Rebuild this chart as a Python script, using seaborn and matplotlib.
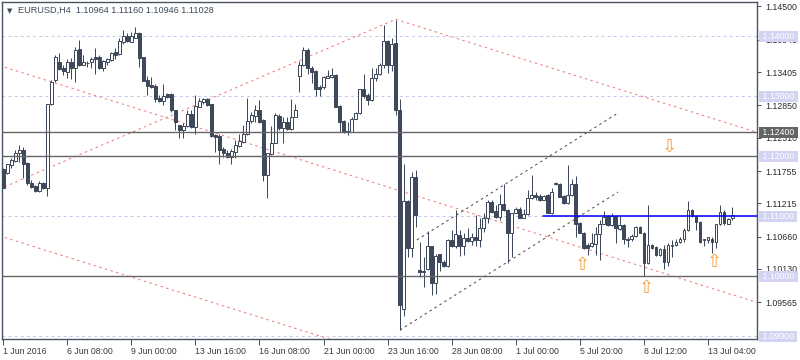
import matplotlib
matplotlib.use("Agg")
import matplotlib.pyplot as plt
import matplotlib.transforms as mtrans
import numpy as np
import pandas as pd
import seaborn as sns

# ---------------- data ----------------
symbol = "EURUSD,H4"
last_ohlc = ["1.10964", "1.11160", "1.10946", "1.11028"]

opens = [1.1179, 1.1172, 1.1186, 1.1193, 1.1205, 1.1211, 1.1189, 1.1155, 1.1151, 1.1142,
         1.1155, 1.1147, 1.1287, 1.1327, 1.1357, 1.1347, 1.1341, 1.1357, 1.1348, 1.1379,
         1.1353, 1.1356, 1.1357, 1.1365, 1.1366, 1.1348, 1.1357, 1.1361, 1.1374, 1.1370,
         1.1391, 1.1400, 1.1391, 1.1398, 1.1405, 1.1365, 1.1327, 1.1319, 1.1318, 1.1298,
         1.1292, 1.1304, 1.1304, 1.1277, 1.1252, 1.1244, 1.1251, 1.1271, 1.1249, 1.1283,
         1.1291, 1.1296, 1.1287, 1.1236, 1.1234, 1.1212, 1.1206, 1.1199, 1.1208, 1.1217,
         1.1224, 1.1237, 1.1259, 1.1267, 1.1277, 1.1261, 1.1169, 1.1204, 1.1223, 1.1267,
         1.1247, 1.1257, 1.1245, 1.1266, 1.1334, 1.1352, 1.1378, 1.1347, 1.1342, 1.1315,
         1.1315, 1.1331, 1.1333, 1.1336, 1.1284, 1.1259, 1.1242, 1.1241, 1.1263, 1.1272,
         1.1312, 1.1302, 1.1294, 1.1330, 1.1337, 1.1352, 1.1392, 1.1352, 1.1389, 1.1277,
         1.0945, 1.1126, 1.1048, 1.1166, 1.1011, 1.1009, 1.1012, 1.1051, 1.0989, 1.1037,
         1.1024, 1.1017, 1.1061, 1.1051, 1.1069, 1.1051, 1.1064, 1.1059, 1.1066, 1.1061,
         1.1081, 1.1098, 1.1124, 1.1109, 1.1099, 1.1121, 1.1111, 1.1072, 1.1106, 1.1112,
         1.1098, 1.1104, 1.1130, 1.1136, 1.1134, 1.1128, 1.1136, 1.1106, 1.1154, 1.1154,
         1.1134, 1.1122, 1.1135, 1.1154, 1.1089, 1.1073, 1.1052, 1.1051, 1.1054, 1.1071,
         1.1088, 1.1101, 1.1086, 1.1101, 1.1079, 1.1086, 1.1063, 1.1062, 1.1067, 1.1082,
         1.1073, 1.1022, 1.1052, 1.1049, 1.1036, 1.1045, 1.1024, 1.1051, 1.1052, 1.1058,
         1.1062, 1.1077, 1.1111, 1.1101, 1.1091, 1.1062, 1.1061, 1.1063, 1.1058, 1.1087,
         1.1108, 1.1088, 1.10964]
highs = [1.1181, 1.1188, 1.1198, 1.1211, 1.1219, 1.1216, 1.1191, 1.1161, 1.1153, 1.1159,
         1.1158, 1.1288, 1.1327, 1.1369, 1.1372, 1.1352, 1.1363, 1.1364, 1.1383, 1.1394,
         1.1369, 1.1359, 1.1366, 1.1380, 1.1369, 1.1361, 1.1364, 1.1374, 1.1380, 1.1397,
         1.1411, 1.1405, 1.1408, 1.1415, 1.1407, 1.1366, 1.1334, 1.1333, 1.1320, 1.1302,
         1.1320, 1.1305, 1.1305, 1.1278, 1.1253, 1.1255, 1.1277, 1.1277, 1.1302, 1.1298,
         1.1297, 1.1297, 1.1288, 1.1238, 1.1238, 1.1216, 1.1211, 1.1212, 1.1228, 1.1237,
         1.1252, 1.1298, 1.1274, 1.1285, 1.1294, 1.1263, 1.1206, 1.1251, 1.1273, 1.1271,
         1.1265, 1.1265, 1.1295, 1.1287, 1.1359, 1.1382, 1.1380, 1.1351, 1.1344, 1.1319,
         1.1334, 1.1344, 1.1348, 1.1337, 1.1285, 1.1261, 1.1258, 1.1266, 1.1274, 1.1313,
         1.1337, 1.1306, 1.1347, 1.1347, 1.1356, 1.1419, 1.1394, 1.1397, 1.1428, 1.1295,
         1.1187, 1.1127, 1.1174, 1.1178, 1.1058, 1.1032, 1.1075, 1.1051, 1.1038, 1.1038,
         1.1027, 1.1063, 1.1078, 1.1111, 1.1077, 1.1072, 1.1080, 1.1072, 1.1102, 1.1097,
         1.1105, 1.1127, 1.1127, 1.1119, 1.1138, 1.1154, 1.1112, 1.1106, 1.1116, 1.1116,
         1.1113, 1.1144, 1.1169, 1.1141, 1.1137, 1.1136, 1.1137, 1.1147, 1.1158, 1.1155,
         1.1135, 1.1186, 1.1163, 1.1167, 1.1091, 1.1074, 1.1055, 1.1072, 1.1082, 1.1094,
         1.1109, 1.1102, 1.1105, 1.1102, 1.1101, 1.1087, 1.1066, 1.1071, 1.1084, 1.1084,
         1.1074, 1.1119, 1.1054, 1.1050, 1.1048, 1.1052, 1.1055, 1.1061, 1.1062, 1.1066,
         1.1080, 1.1126, 1.1113, 1.1102, 1.1092, 1.1063, 1.1066, 1.1066, 1.1088, 1.1119,
         1.1110, 1.1097, 1.11160]
lows = [1.1147, 1.1170, 1.1181, 1.1191, 1.1191, 1.1164, 1.1153, 1.1147, 1.1141, 1.1141,
        1.1146, 1.1134, 1.1286, 1.1324, 1.1344, 1.1336, 1.1330, 1.1329, 1.1324, 1.1351,
        1.1352, 1.1349, 1.1347, 1.1338, 1.1346, 1.1342, 1.1353, 1.1359, 1.1363, 1.1369,
        1.1387, 1.1391, 1.1390, 1.1397, 1.1349, 1.1325, 1.1303, 1.1314, 1.1290, 1.1290,
        1.1286, 1.1298, 1.1274, 1.1244, 1.1231, 1.1231, 1.1249, 1.1248, 1.1237, 1.1282,
        1.1287, 1.1284, 1.1233, 1.1208, 1.1188, 1.1199, 1.1197, 1.1188, 1.1197, 1.1215,
        1.1223, 1.1236, 1.1256, 1.1258, 1.1256, 1.1159, 1.1130, 1.1202, 1.1222, 1.1244,
        1.1223, 1.1244, 1.1244, 1.1265, 1.1308, 1.1351, 1.1337, 1.1322, 1.1301, 1.1301,
        1.1313, 1.1330, 1.1330, 1.1282, 1.1241, 1.1239, 1.1236, 1.1240, 1.1262, 1.1271,
        1.1298, 1.1285, 1.1293, 1.1326, 1.1336, 1.1347, 1.1339, 1.1343, 1.1269, 1.0911,
        1.0934, 1.1033, 1.1033, 1.1083, 1.0999, 1.0982, 1.1010, 1.0969, 1.0971, 1.1009,
        1.1016, 1.1016, 1.1049, 1.1048, 1.1034, 1.1036, 1.1058, 1.1052, 1.1051, 1.1049,
        1.1074, 1.1089, 1.1105, 1.1097, 1.1094, 1.1109, 1.1022, 1.1032, 1.1105, 1.1097,
        1.1097, 1.1102, 1.1129, 1.1127, 1.1126, 1.1127, 1.1105, 1.1104, 1.1152, 1.1132,
        1.1121, 1.1121, 1.1134, 1.1065, 1.1072, 1.1045, 1.1036, 1.1049, 1.1036, 1.1027,
        1.1087, 1.1084, 1.1084, 1.1055, 1.1077, 1.1054, 1.1049, 1.1059, 1.1066, 1.1072,
        1.1001, 1.1021, 1.1045, 1.1034, 1.1034, 1.1013, 1.1017, 1.1033, 1.1050, 1.1056,
        1.1057, 1.1076, 1.1099, 1.1077, 1.1056, 1.1050, 1.1055, 1.1039, 1.1048, 1.1086,
        1.1086, 1.1087, 1.10946]
closes = [1.1148, 1.1187, 1.1194, 1.1205, 1.1211, 1.1188, 1.1155, 1.1149, 1.1142, 1.1155,
          1.1147, 1.1287, 1.1324, 1.1365, 1.1345, 1.1342, 1.1357, 1.1348, 1.1377, 1.1352,
          1.1357, 1.1355, 1.1363, 1.1363, 1.1348, 1.1359, 1.1362, 1.1373, 1.1369, 1.1392,
          1.1400, 1.1392, 1.1400, 1.1405, 1.1364, 1.1326, 1.1318, 1.1316, 1.1296, 1.1292,
          1.1301, 1.1299, 1.1277, 1.1257, 1.1244, 1.1251, 1.1271, 1.1249, 1.1284, 1.1293,
          1.1295, 1.1286, 1.1234, 1.1233, 1.1211, 1.1206, 1.1199, 1.1209, 1.1219, 1.1226,
          1.1237, 1.1259, 1.1269, 1.1277, 1.1258, 1.1169, 1.1205, 1.1223, 1.1269, 1.1247,
          1.1257, 1.1246, 1.1265, 1.1278, 1.1352, 1.1378, 1.1347, 1.1341, 1.1313, 1.1313,
          1.1332, 1.1334, 1.1336, 1.1283, 1.1258, 1.1240, 1.1241, 1.1263, 1.1272, 1.1312,
          1.1301, 1.1294, 1.1330, 1.1337, 1.1352, 1.1392, 1.1352, 1.1388, 1.1277, 1.0952,
          1.1125, 1.1048, 1.1166, 1.1102, 1.1008, 1.1008, 1.1051, 1.0989, 1.1034, 1.1024,
          1.1017, 1.1061, 1.1051, 1.1070, 1.1051, 1.1064, 1.1059, 1.1066, 1.1061, 1.1081,
          1.1098, 1.1124, 1.1108, 1.1099, 1.1121, 1.1111, 1.1072, 1.1105, 1.1112, 1.1098,
          1.1104, 1.1130, 1.1136, 1.1132, 1.1128, 1.1134, 1.1106, 1.1141, 1.1156, 1.1133,
          1.1122, 1.1135, 1.1154, 1.1088, 1.1073, 1.1047, 1.1048, 1.1055, 1.1071, 1.1088,
          1.1099, 1.1086, 1.1101, 1.1080, 1.1086, 1.1062, 1.1061, 1.1067, 1.1082, 1.1073,
          1.1022, 1.1052, 1.1048, 1.1036, 1.1045, 1.1024, 1.1052, 1.1053, 1.1058, 1.1062,
          1.1077, 1.1111, 1.1101, 1.1091, 1.1058, 1.1061, 1.1065, 1.1058, 1.1087, 1.1108,
          1.1089, 1.1095, 1.11028]

time_labels = ["1 Jun 2016", "6 Jun 08:00", "9 Jun 00:00", "13 Jun 16:00", "16 Jun 08:00",
               "21 Jun 00:00", "23 Jun 16:00", "28 Jun 08:00", "1 Jul 00:00", "5 Jul 20:00",
               "8 Jul 12:00", "13 Jul 04:00"]
time_label_bars = [0, 16, 32, 48, 64, 80, 96, 112, 128, 144, 160, 176]

price_ticks = [1.14500, 1.13945, 1.13405, 1.12850, 1.12310, 1.11755, 1.11215,
               1.10660, 1.10130, 1.09565]
marked_levels = [1.14, 1.13, 1.12, 1.11, 1.10, 1.09]
solid_levels = [1.1240, 1.1200, 1.1000]
current_level = 1.1240
blue_level = 1.1100
blue_from_bar = 134.8

# trend lines: (bar0, price0, bar1, price1)
red_lines = [(-1.0, 1.13514, 190.0, 1.09528),
             (-1.0, 1.11453, 98.0, 1.14283),
             (98.0, 1.14283, 190.0, 1.12363),
             (-1.0, 1.10676, 90.0, 1.08777)]
gray_lines = [(99.1, 1.09105, 153.5, 1.11405),
              (103.3, 1.10605, 153.5, 1.12722)]

up_arrows = [(144.7, 1.10188), (160.7, 1.09800), (177.7, 1.10243)]
down_arrows = [(166.3, 1.12160)]

# ---------------- style ----------------
sns.set_theme(style="white")
plt.rcParams["font.family"] = ["Liberation Sans", "DejaVu Sans"]
plt.rcParams["lines.scale_dashes"] = False

W, H = 800, 360
fig = plt.figure(figsize=(W / 100, H / 100), dpi=100, facecolor="white")
left_px, right_px, top_px, bot_px = 2.3, 757.3, 2.0, 339.0
ax = fig.add_axes([left_px / W, 1 - bot_px / H, (right_px - left_px) / W, (bot_px - top_px) / H])
ax.set_facecolor("white")

df = pd.DataFrame({"open": opens, "high": highs, "low": lows, "close": closes})
df["bar"] = np.arange(len(df))
df["bull"] = df["close"] >= df["open"]

dark = "#3e4a5b"
px = 0.72  # one pixel in points
lab_fs = 6.3

# guide levels
for lv in marked_levels:
    ax.axhline(lv, color="#c9c9ef", lw=px, ls=(0, (2.2, 2.2)), zorder=1)

# trend lines
for (b0, p0, b1, p1) in red_lines:
    ax.plot([b0, b1], [p0, p1], color="#ef7b7b", lw=px, ls=(0, (1.8, 2.4)), zorder=2)
for (b0, p0, b1, p1) in gray_lines:
    ax.plot([b0, b1], [p0, p1], color="#4a4a4a", lw=px, ls=(0, (1.8, 2.4)), zorder=2)

# candles
ax.vlines(df["bar"], df["low"], df["high"], color=dark, lw=px, zorder=3)
body_lo = np.minimum(df["open"], df["close"])
body_h = np.maximum(np.abs(df["close"] - df["open"]), 0.00006)
ax.bar(df["bar"], body_h, bottom=body_lo, width=0.72,
       color=np.where(df["bull"], "white", dark), edgecolor=dark, linewidth=px, zorder=3.5)

# solid horizontal lines
for lv in solid_levels:
    ax.axhline(lv, color="#666666", lw=1.0, zorder=4)

# blue level
ax.plot([blue_from_bar, 200], [blue_level, blue_level], color="#0000ff", lw=1.1, zorder=5)

# arrows
for (b, p) in up_arrows:
    ax.text(b, p, "\u21e7", color="#ee9e3a", fontsize=13, ha="center", va="center",
            family="DejaVu Sans", zorder=6)
for (b, p) in down_arrows:
    ax.text(b, p, "\u21e9", color="#ee9e3a", fontsize=13, ha="center", va="center",
            family="DejaVu Sans", zorder=6)

ax.set_xlim(-0.2, 188.3)
ax.set_ylim(1.08955, 1.14572)

# axes frame
for s in ax.spines.values():
    s.set_color("#4a5363")
    s.set_linewidth(1.0)

ax.yaxis.tick_right()
ax.set_yticks(price_ticks)
ax.set_yticklabels([f"{v:.5f}" for v in price_ticks])
ax.tick_params(axis="y", which="both", right=True, left=False, length=3, width=px,
               color="#4a5363", labelsize=lab_fs, labelcolor="#2a2a2a", pad=2.5)
ax.set_xticks(time_label_bars)
ax.set_xticklabels(time_labels, ha="left")
ax.tick_params(axis="x", bottom=True, length=4, width=px, color="#4a5363",
               labelsize=lab_fs, labelcolor="#3a3a3a", pad=1.5)
for lab in ax.get_xticklabels():
    lab.set_horizontalalignment("left")

# highlighted price labels on the axis
trans = mtrans.blended_transform_factory(ax.transAxes, ax.transData)
for lv in marked_levels:
    ax.text(1.0035, lv, f" {lv:.5f} ", transform=trans, fontsize=lab_fs, color="white",
            ha="left", va="center", zorder=10, clip_on=False,
            bbox=dict(boxstyle="square,pad=0.12", fc="#d3d3f3", ec="none"))
ax.text(1.0035, current_level, f" {current_level:.5f} ", transform=trans, fontsize=lab_fs,
        color="white", ha="left", va="center", zorder=11, clip_on=False,
        bbox=dict(boxstyle="square,pad=0.12", fc="#646464", ec="none"))

# header
fig.text(7 / W, 1 - 10.8 / H, "\u25bc", fontsize=5, color="#3e4a5b", ha="left", va="center",
         family="DejaVu Sans")
fig.text(18 / W, 1 - 10.8 / H, f"{symbol}  " + " ".join(last_ohlc), fontsize=6.6,
         color="#3e4a5b", ha="left", va="center")

fig.savefig("out.png", dpi=100, facecolor="white")
